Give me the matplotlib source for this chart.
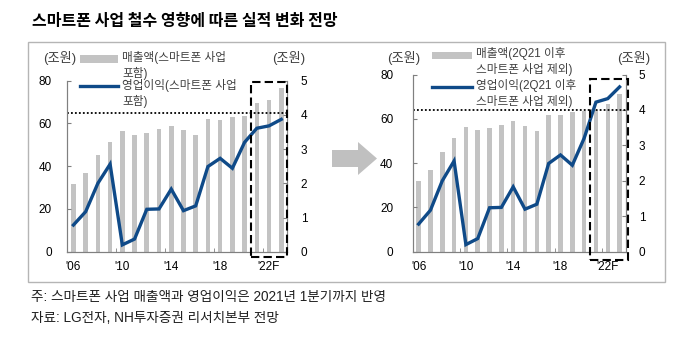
import matplotlib
matplotlib.use('Agg')
import matplotlib.pyplot as plt
from matplotlib.patches import Rectangle, Polygon
from matplotlib.lines import Line2D
import numpy as np

plt.rcParams['font.family'] = ['Liberation Sans', 'Noto Sans CJK KR', 'DejaVu Sans']

# ---------------- data ----------------
title = "스마트폰 사업 철수 영향에 따른 실적 변화 전망"
years = ['2006', '2007', '2008', '2009', '2010', '2011', '2012', '2013', '2014',
         '2015', '2016', '2017', '2018', '2019', '2020', '2021F', '2022F', '2023F']
tick_pos = [0, 4, 8, 12, 16]
tick_labels = ["'06", "'10", "'14", "'18", "'22F"]

rev_incl = [31.7, 37.0, 45.1, 51.5, 56.3, 54.8, 55.7, 57.2, 58.8,
            56.9, 54.6, 61.9, 61.6, 62.9, 63.6, 69.4, 71.0, 76.7]
op_incl = [0.78, 1.17, 2.00, 2.56, 0.20, 0.37, 1.24, 1.25, 1.83,
           1.20, 1.34, 2.49, 2.73, 2.44, 3.20, 3.61, 3.68, 3.87]

rev_excl = [31.7, 37.0, 45.1, 51.5, 56.3, 54.8, 55.7, 57.2, 58.8,
            56.9, 54.6, 61.9, 61.6, 62.9, 63.6, 64.0, 66.8, 71.0]
op_excl = [0.78, 1.17, 2.00, 2.56, 0.20, 0.37, 1.24, 1.25, 1.83,
           1.20, 1.34, 2.49, 2.73, 2.44, 3.20, 4.22, 4.32, 4.65]

ref_left = 4.05
ref_right = 4.0

unit = "(조원)"
leg_left = ["매출액(스마트폰 사업", "포함)", "영업이익(스마트폰 사업", "포함)"]
leg_right = ["매출액(2Q21 이후", "스마트폰 사업 제외)", "영업이익(2Q21 이후", "스마트폰 사업 제외)"]
note1 = "주: 스마트폰 사업 매출액과 영업이익은 2021년 1분기까지 반영"
note2 = "자료: LG전자, NH투자증권 리서치본부 전망"

# ---------------- style ----------------
BAR = '#c3c3c3'
LINE = '#0f4a88'
AXC = '#808080'
TXT = '#404040'

W, H = 680, 337
fig = plt.figure(figsize=(W / 100, H / 100), dpi=100)


def fx(x):
    return x / W


def fy(y):
    return 1 - y / H


def make_axes(l, r, top, bot):
    return fig.add_axes([fx(l), fy(bot), fx(r) - fx(l), fy(top) - fy(bot)])


def draw_chart(ax, rev, op, ref, lpad, rpad, box):
    x = np.arange(len(years))
    ax.bar(x, rev, width=0.38, color=BAR, zorder=1)
    ax.set_xlim(-0.5, len(years) - 0.5)
    ax.set_ylim(0, 80)
    ax.set_yticks([0, 20, 40, 60, 80])
    ax.set_xticks(tick_pos)
    ax.set_xticklabels(tick_labels)
    ax.set_xticks([3.5, 7.5, 11.5, 15.5], minor=True)
    ax.tick_params(axis='x', which='major', length=0, pad=7, labelsize=8.5)
    ax.tick_params(axis='x', which='minor', direction='in', length=3, color=AXC)
    ax.tick_params(axis='y', direction='in', length=3, color=AXC, pad=lpad, labelsize=8.5)
    ax.spines['top'].set_visible(False)
    for s in ['left', 'bottom', 'right']:
        ax.spines[s].set_color(AXC)
        ax.spines[s].set_linewidth(0.8)

    ax2 = ax.twinx()
    ax2.set_ylim(0, 5)
    ax2.set_yticks([0, 1, 2, 3, 4, 5])
    ax2.tick_params(axis='y', direction='in', length=3, color=AXC, pad=rpad, labelsize=8.5)
    ax2.spines['top'].set_visible(False)
    for s in ['left', 'bottom', 'right']:
        ax2.spines[s].set_color(AXC)
        ax2.spines[s].set_linewidth(0.8)
    ax2.plot(x, op, color=LINE, lw=2.4, solid_joinstyle='miter', zorder=3)
    ax2.plot([-0.5, len(years) - 0.5], [ref, ref], color='black', lw=1.3,
             linestyle=(0, (1, 1.2)), zorder=2)
    bx0, bx1, by0, by1 = box
    ax2.add_patch(Rectangle((bx0, by0), bx1 - bx0, by1 - by0, fill=False,
                            edgecolor='black', lw=1.5, linestyle=(0, (4, 2)),
                            clip_on=False, zorder=4))
    return ax2


# frame
fig.add_artist(Rectangle((fx(28), fy(282)), fx(665) - fx(28), fy(42) - fy(282),
                         fill=False, edgecolor='#b5b5b5', lw=1.0))

# title
fig.text(fx(32), fy(21), title, fontsize=11.5, fontweight='bold', va='center', ha='left',
         family=['Noto Sans CJK KR', 'DejaVu Sans'])

# left chart
axL = make_axes(67.3, 287.4, 80.7, 251.7)
draw_chart(axL, rev_incl, op_incl, ref_left, 11, 9.5, (14.5, 17.44, -0.155, 4.97))

# right chart
axR = make_axes(412.7, 625.5, 74.5, 251.7)
draw_chart(axR, rev_excl, op_excl, ref_right, 14, 9.5, (14.5, 17.74, -0.23, 4.87))

# unit labels
for xc in [60, 288.5, 404, 634]:
    fig.text(fx(xc), fy(58), unit, fontsize=9.5, ha='center', va='center', color=TXT)


# legends
def legend(px0, px1, tx, rows, pk_y0, pk_y1, ln_y):
    fig.add_artist(Rectangle((fx(px0), fy(pk_y1)), fx(px1) - fx(px0), fy(pk_y0) - fy(pk_y1),
                             facecolor=BAR, edgecolor='none'))
    fig.add_artist(Line2D([fx(px0), fx(px1)], [fy(ln_y), fy(ln_y)], color=LINE, lw=2.4))
    for yy, s in zip(rows, tx):
        fig.text(fx(px1 + 4), fy(yy), s, fontsize=8.4, ha='left', va='center', color=TXT)


legend(80, 118, leg_left, [58, 73, 86, 101.5], 55, 62.5, 86)
legend(432, 472, leg_right, [54, 70, 86, 102], 52.5, 58.5, 86.7)

# arrow
fig.add_artist(Polygon([(fx(332), fy(150)), (fx(358), fy(150)), (fx(358), fy(142)),
                        (fx(377), fy(158.5)), (fx(358), fy(175)), (fx(358), fy(167)),
                        (fx(332), fy(167))], closed=True, facecolor='#c0c0c0', edgecolor='none'))

# notes
fig.text(fx(31), fy(297), note1, fontsize=9.8, ha='left', va='center', color='#202020')
fig.text(fx(31), fy(318), note2, fontsize=9.8, ha='left', va='center', color='#202020')

fig.savefig('out.png', dpi=100)
